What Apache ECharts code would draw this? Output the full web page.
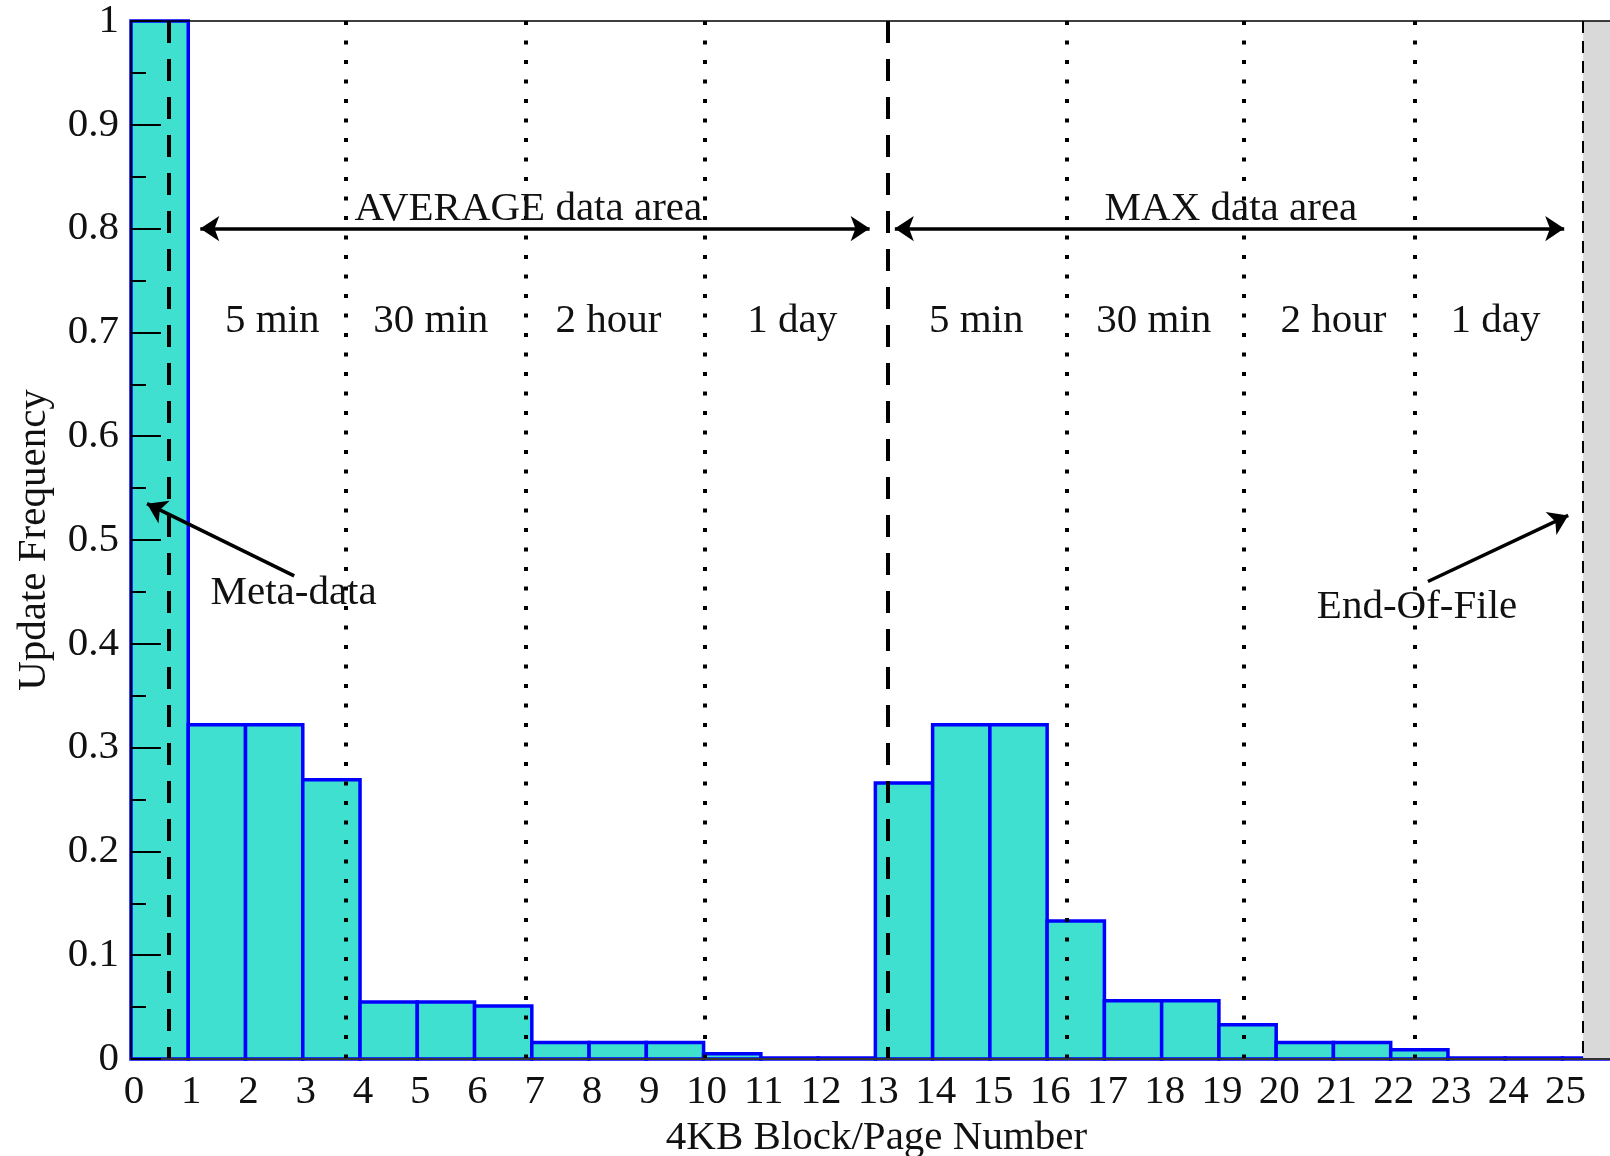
<!DOCTYPE html>
<html>
<head>
<meta charset="utf-8">
<script src="https://cdn.jsdelivr.net/npm/echarts@6/dist/echarts.min.js"></script>
<style>
html,body{margin:0;padding:0;background:#fff;}
#chart{width:1610px;height:1156px;}
</style>
</head>
<body>
<div id="chart"></div>
<script>
// ---- data ----
const blocks = [0,1,2,3,4,5,6,7,8,9,10,11,12,13,14,15,16,17,18,19,20,21,22,23,24,25];
const updateFreq = [1.0, 0.322, 0.322, 0.269, 0.055, 0.055, 0.051, 0.016, 0.016, 0.016, 0.005, 0.001, 0.001,
                    0.266, 0.322, 0.322, 0.133, 0.056, 0.056, 0.033, 0.016, 0.016, 0.009, 0.001, 0.001, 0.001];
const xTickLabels = ['0','1','2','3','4','5','6','7','8','9','10','11','12','13','14','15','16','17','18','19','20','21','22','23','24','25'];
const yTickLabels = ['0','0.1','0.2','0.3','0.4','0.5','0.6','0.7','0.8','0.9','1'];
const xAxisTitle = '4KB Block/Page Number';
const yAxisTitle = 'Update Frequency';

// region boundaries (block units)
const regionBoundaryX = [0.66, 13.21];                          // thick dashed
const intervalBoundaryX = [3.75, 6.89, 10.02, 16.35, 19.44, 22.42]; // dotted
const endOfFileX = 25.36;
const xMax = 25.83;

// annotations
const timeLabels = ['5 min','30 min','2 hour','1 day','5 min','30 min','2 hour','1 day'];
const timeLabelX = [2.465, 5.236, 8.34, 11.55, 14.76, 17.86, 21.0, 23.83];
const timeLabelY = 0.7105;
const areaLabels = ['AVERAGE data area', 'MAX data area'];
const areaLabelX = [6.94, 19.21];
const areaLabelY = 0.8186;
const areaArrowY = 0.8;
const areaArrowX = [[1.21, 12.9], [13.34, 25.03]];
const noteLabels = ['Meta-data', 'End-Of-File'];
const noteLabelXY = [[2.84, 0.4485], [22.46, 0.4357]];
const noteArrows = [[[2.85, 0.4655], [0.28, 0.535]], [[22.65, 0.46], [25.1, 0.5237]]];

// ---- build ----
const FONT = 'Liberation Serif';
const texts = [];
timeLabels.forEach((t, i) => texts.push({t, x: timeLabelX[i], y: timeLabelY}));
areaLabels.forEach((t, i) => texts.push({t, x: areaLabelX[i], y: areaLabelY}));
noteLabels.forEach((t, i) => texts.push({t, x: noteLabelXY[i][0], y: noteLabelXY[i][1]}));

const chart = echarts.init(document.getElementById('chart'), null, {renderer: 'canvas'});

const option = {
  animation: false,
  backgroundColor: '#ffffff',
  grid: {left: 131, right: 0, top: 21, bottom: 97, containLabel: false, outerBoundsMode: 'none'},
  xAxis: [{
    type: 'value', min: 0, max: xMax, interval: 1, z: 10,
    axisLine: {show: true, onZero: false, lineStyle: {color: '#333', width: 2}},
    axisTick: {show: false},
    splitLine: {show: false},
    axisLabel: {
      show: true, margin: 13, color: '#111', fontFamily: FONT, fontSize: 41, padding: [0, 0, 0, 6],
      formatter: v => (Number.isInteger(v) && xTickLabels[v] !== undefined) ? xTickLabels[v] : ''
    },
    name: xAxisTitle, nameLocation: 'middle', nameGap: 58,
    nameTextStyle: {color: '#111', fontFamily: FONT, fontSize: 41, padding: [0, 0, 0, 12]}
  }, {
    type: 'value', min: 0, max: xMax, position: 'top', z: 10,
    axisLine: {show: true, onZero: false, lineStyle: {color: '#000', width: 1.5}},
    axisTick: {show: false}, axisLabel: {show: false}, splitLine: {show: false}
  }],
  yAxis: {
    type: 'value', min: 0, max: 1, interval: 0.1, z: 10,
    axisLine: {show: true, lineStyle: {color: '#000', width: 1.5}},
    axisTick: {show: true, inside: true, length: 30, lineStyle: {color: '#000', width: 2}},
    minorTick: {show: true, splitNumber: 2, length: 15, lineStyle: {color: '#000', width: 2}},
    splitLine: {show: false},
    axisLabel: {
      margin: 12, color: '#111', fontFamily: FONT, fontSize: 41,
      formatter: v => yTickLabels[Math.round(v * 10)]
    },
    name: yAxisTitle, nameLocation: 'middle', nameGap: 76,
    nameTextStyle: {color: '#111', fontFamily: FONT, fontSize: 41}
  },
  series: [
    {
      type: 'custom', name: 'bars', z: 2,
      data: blocks.map((b, i) => [b, updateFreq[i]]),
      renderItem: (params, api) => {
        const i = api.value(0), v = api.value(1);
        const p0 = api.coord([i, v]);
        const p1 = api.coord([i + 1, 0]);
        return {
          type: 'rect',
          shape: {x: p0[0], y: p0[1], width: p1[0] - p0[0], height: p1[1] - p0[1]},
          style: {fill: '#40E0D0', stroke: '#0000FF', lineWidth: 3.5}
        };
      }
    },
    {
      type: 'line', name: 'eof-area', z: 3, data: [], silent: true,
      markArea: {
        silent: true, z: 3,
        itemStyle: {color: '#d9d9d9'},
        data: [[{xAxis: endOfFileX}, {xAxis: xMax}]]
      }
    },
    {
      type: 'line', name: 'dotted', z: 4, data: [], silent: true,
      markLine: {
        silent: true, z: 4, symbol: ['none', 'none'], label: {show: false},
        lineStyle: {color: '#000', width: 4, type: [4, 15.5], cap: 'butt'},
        data: intervalBoundaryX.map(x => [{coord: [x, 1]}, {coord: [x, 0]}])
      }
    },
    {
      type: 'line', name: 'dashed', z: 4, data: [], silent: true,
      markLine: {
        silent: true, z: 4, symbol: ['none', 'none'], label: {show: false},
        lineStyle: {color: '#000', width: 4, type: [22, 16], cap: 'butt'},
        data: regionBoundaryX.map(x => [{coord: [x, 1]}, {coord: [x, 0]}])
      }
    },
    {
      type: 'line', name: 'eof-line', z: 4, data: [], silent: true,
      markLine: {
        silent: true, z: 4, symbol: ['none', 'none'], label: {show: false},
        lineStyle: {color: '#000', width: 2, type: [12, 8], cap: 'butt'},
        data: [[{coord: [endOfFileX, 1]}, {coord: [endOfFileX, 0]}]]
      }
    },
    {
      type: 'line', name: 'area-arrows', z: 5, data: [], silent: true,
      markLine: {
        silent: true, z: 5, symbol: ['arrow', 'arrow'], symbolSize: 19, label: {show: false},
        lineStyle: {color: '#000', width: 3.5, type: 'solid'},
        data: areaArrowX.map(a => [{coord: [a[0], areaArrowY]}, {coord: [a[1], areaArrowY]}])
      }
    },
    {
      type: 'line', name: 'note-arrows', z: 5, data: [], silent: true,
      markLine: {
        silent: true, z: 5, symbol: ['none', 'arrow'], symbolSize: 19, label: {show: false},
        lineStyle: {color: '#000', width: 3.5, type: 'solid'},
        data: noteArrows.map(a => [{coord: a[0]}, {coord: a[1]}])
      }
    },
    {
      type: 'custom', name: 'texts', z: 6, silent: true,
      data: texts.map(d => [d.x, d.y]),
      renderItem: (params, api) => {
        const d = texts[params.dataIndex];
        const p = api.coord([d.x, d.y]);
        return {
          type: 'text', x: p[0], y: p[1],
          style: {text: d.t, fill: '#111', fontFamily: FONT, fontSize: 41, align: 'center', verticalAlign: 'middle'}
        };
      }
    }
  ]
};
chart.setOption(option);
</script>
</body>
</html>
